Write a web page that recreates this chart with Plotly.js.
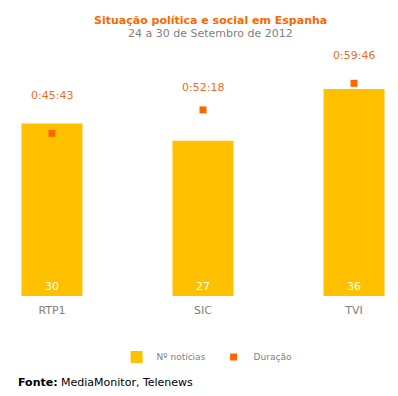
<!DOCTYPE html>
<html><head><meta charset="utf-8">
<script src="https://cdn.plot.ly/plotly-3.0.1.min.js"></script>
<style>body{margin:0;background:#fff}#c{width:398px;height:396px}</style>
</head><body><div id="c"></div>
<script>
const categories = ['RTP1', 'SIC', 'TVI'];
const noticias = [30, 27, 36];
const duracaoLabels = ['0:45:43', '0:52:18', '0:59:46'];
function toSeconds(s){const p=s.split(':').map(Number);return p[0]*3600+p[1]*60+p[2];}
const duracaoSec = duracaoLabels.map(toSeconds);
const labelShift = [38, 22, 28];

const font = 'DejaVu Sans, Verdana, sans-serif';
const traces = [
  {type:'bar', name:'Nº notícias', x:categories, y:noticias, width:0.404,
   marker:{color:'#FFC000'}, text:noticias.map(String), textposition:'inside',
   insidetextanchor:'start', insidetextfont:{color:'#ffffff', size:11, family:font},
   hoverinfo:'skip'},
  {type:'scatter', mode:'markers', name:'Duração', x:categories, y:duracaoSec, yaxis:'y2',
   marker:{symbol:'square', size:7, color:'#FF6600'}, hoverinfo:'skip'}
];
const annotations = categories.map((c,i)=>({x:c, y:duracaoSec[i], xref:'x', yref:'y2',
  text:duracaoLabels[i], showarrow:false, yshift:labelShift[i],
  font:{family:font, size:11, color:'#F26A1B'}}));
annotations.push({xref:'paper', yref:'paper', x:0.531, y:1.2, yanchor:'middle', text:'<b>Situação política e social em Espanha</b>',
  showarrow:false, font:{family:font, size:11, color:'#FF6600'}});
annotations.push({xref:'paper', yref:'paper', x:0.531, y:1.143, yanchor:'middle', text:'24 a 30 de Setembro de 2012',
  showarrow:false, font:{family:font, size:11, color:'#808080'}});
annotations.push({xref:'paper', yref:'paper', x:0.016, xanchor:'left', y:-0.374, yanchor:'middle', text:'<b>Fonte:</b> MediaMonitor, Telenews',
  showarrow:false, font:{family:font, size:11, color:'#000000'}});

const layout = {
  width:398, height:396, margin:{l:10, r:10, t:66, b:100},
  paper_bgcolor:'#fff', plot_bgcolor:'#fff', showlegend:true,
  xaxis:{type:'category', range:[-0.278, 2.225], showgrid:false, zeroline:false, showline:false,
    ticks:'', ticklabelstandoff:6, tickfont:{family:font, size:11, color:'#808080'}},
  yaxis:{range:[0,40], visible:false, showgrid:false, zeroline:false},
  yaxis2:{range:[0,3878], overlaying:'y', side:'right', visible:false, showgrid:false, zeroline:false},
  legend:{orientation:'h', x:0.282, xanchor:'left', y:-0.265, yanchor:'middle',
    font:{family:font, size:9, color:'#808080'}, itemwidth:30, entrywidth:52, tracegroupgap:0},
  annotations
};
Plotly.newPlot('c', traces, layout, {displayModeBar:false, staticPlot:true});
</script></body></html>
